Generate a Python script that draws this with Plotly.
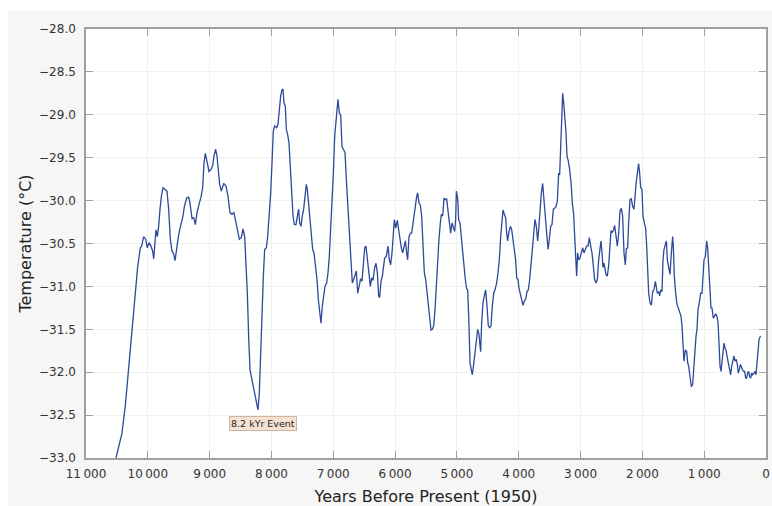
import plotly.graph_objects as go

years = [
    10515, 10461, 10418, 10364, 10310, 10256, 10202, 10164, 10121, 10100,
    10067, 10035, 10008, 9981, 9949, 9922, 9905, 9884, 9868, 9846,
    9825, 9803, 9781, 9754, 9722, 9690, 9663, 9636, 9609, 9582,
    9560, 9539, 9512, 9485, 9453, 9431, 9409, 9372, 9339, 9318,
    9285, 9258, 9231, 9204, 9167, 9140, 9113, 9091, 9070, 9043,
    9010, 8978, 8951, 8929, 8903, 8881, 8859, 8838, 8811,
    8773, 8735, 8703, 8671, 8638, 8606, 8584, 8552, 8520, 8487,
    8460, 8433, 8412, 8390, 8369, 8347, 8326, 8299, 8272, 8245,
    8218, 8196, 8175, 8153, 8131, 8110, 8083, 8061, 8034, 8013,
    7991, 7970, 7948, 7916, 7894, 7873, 7851, 7829, 7813, 7797,
    7776, 7759, 7738, 7716, 7695, 7673, 7651, 7630, 7603, 7581,
    7560, 7544, 7522, 7501, 7479, 7457, 7436, 7420, 7398, 7377,
    7355, 7333, 7312, 7290, 7263, 7242, 7220, 7199, 7177, 7155,
    7134, 7107, 7085, 7064, 7042, 7021, 6999, 6977, 6961, 6940,
    6924, 6902, 6880, 6859, 6837, 6810, 6789, 6767, 6751, 6729,
    6708, 6692, 6670, 6649, 6627, 6605,
    6578, 6557, 6535, 6514, 6492, 6471, 6449, 6427, 6400, 6379,
    6357, 6330, 6309, 6287, 6266, 6250, 6228, 6206, 6185, 6169,
    6142, 6115, 6093, 6072, 6050, 6028, 6012, 5991, 5964, 5942,
    5921, 5899, 5877, 5856, 5834, 5813, 5797, 5775, 5753, 5732,
    5710, 5694, 5673, 5651, 5635, 5613, 5592, 5570, 5549, 5527,
    5505, 5484, 5462, 5441, 5419, 5398, 5376, 5354, 5333, 5311,
    5290, 5268, 5252, 5230, 5209, 5187, 5166, 5144, 5123, 5101,
    5079, 5058, 5036, 5020, 5009, 4988, 4972, 4950, 4928, 4907,
    4885, 4864, 4842, 4826, 4804, 4788, 4767, 4751, 4729, 4707,
    4686, 4664, 4643, 4616, 4600, 4578, 4556, 4535, 4513, 4492,
    4470, 4449, 4427, 4405, 4384,
    4357, 4335, 4314, 4292, 4271, 4254, 4233, 4211, 4195, 4179,
    4157, 4136, 4114, 4093, 4071, 4050, 4033, 4012, 3996, 3974,
    3952, 3931, 3909, 3888, 3866, 3845, 3823, 3801, 3780, 3758,
    3737, 3715, 3694, 3677, 3656, 3634, 3613, 3591, 3570, 3548,
    3526, 3505, 3483, 3462, 3440, 3419, 3397, 3376, 3354, 3338,
    3322, 3305, 3289, 3273, 3252, 3235, 3219, 3198, 3176, 3154,
    3133, 3111, 3090, 3074, 3063, 3047, 3030, 3009, 2987, 2966,
    2944, 2923, 2901, 2879, 2858, 2836, 2815, 2793, 2772, 2750,
    2728, 2707, 2685, 2669, 2653, 2637, 2621, 2604, 2588, 2567,
    2545, 2524, 2507, 2486, 2464, 2448, 2427, 2405, 2383, 2362,
    2340, 2319, 2297, 2276, 2259, 2238, 2222, 2200, 2178, 2157,
    2135, 2119, 2103, 2081, 2060, 2044, 2027, 2006, 1990, 1968,
    1947, 1930, 1914, 1898, 1876, 1855, 1833, 1812, 1790, 1774,
    1758, 1736, 1720, 1704, 1682, 1666, 1650, 1628, 1612, 1596,
    1575, 1553, 1531, 1510, 1499, 1483, 1461, 1440, 1418, 1397,
    1375, 1359, 1343, 1327, 1305, 1283, 1267, 1251, 1229, 1208,
    1186, 1170, 1154, 1132, 1116, 1100, 1078, 1057, 1035, 1019,
    1003, 981, 960, 944, 922, 906, 890, 874, 852, 836,
    814, 793, 777, 760, 744, 728, 712, 696, 679, 663,
    647, 631, 609, 588, 572, 555, 534, 518, 502, 480,
    464, 448, 431, 415, 399, 383, 361, 345, 329, 313,
    297, 280, 264, 248, 232, 216, 194, 178, 162, 146,
    129, 113, 97, 86,
]

temps = [
    -33.00, -32.85, -32.71, -32.39, -31.97, -31.46, -31.04, -30.77, -30.55, -30.53,
    -30.42, -30.45, -30.55, -30.49, -30.53, -30.59, -30.68, -30.47, -30.34, -30.42,
    -30.30, -30.10, -29.95, -29.85, -29.87, -29.89, -30.10, -30.45, -30.59, -30.62,
    -30.70, -30.57, -30.45, -30.34, -30.24, -30.18, -30.07, -29.97, -29.96, -30.03,
    -30.21, -30.20, -30.28, -30.14, -30.03, -29.96, -29.85, -29.56, -29.45, -29.56,
    -29.66, -29.64, -29.59, -29.48, -29.40, -29.48, -29.64, -29.81, -29.89,
    -29.80, -29.83, -29.95, -30.14, -30.16, -30.14, -30.22, -30.36, -30.45, -30.43,
    -30.33, -30.42, -30.69, -31.08, -31.58, -31.97, -32.05, -32.14, -32.24, -32.34,
    -32.44, -32.24, -31.70, -31.15, -30.88, -30.57, -30.55, -30.42, -30.18, -29.91,
    -29.56, -29.19, -29.13, -29.15, -29.11, -28.90, -28.78, -28.71, -28.70, -28.86,
    -28.90, -29.17, -29.23, -29.33, -29.64, -29.91, -30.18, -30.28, -30.28, -30.18,
    -30.10, -30.26, -30.30, -30.18, -30.10, -29.95, -29.81, -29.87, -30.07, -30.26,
    -30.45, -30.57, -30.61, -30.73, -30.92, -31.15, -31.33, -31.43, -31.23, -31.08,
    -31.00, -30.96, -30.84, -30.65, -30.34, -30.10, -29.68, -29.25, -29.09, -28.92,
    -28.82, -28.98, -29.00, -29.37, -29.41, -29.44, -29.75, -30.03, -30.22, -30.53,
    -30.80, -30.96, -30.92, -30.88, -30.82, -31.08,
    -31.00, -30.91, -30.94, -30.73, -30.55, -30.53, -30.69, -30.88, -31.00, -30.90,
    -30.93, -30.78, -30.73, -30.84, -31.11, -31.13, -30.94, -30.88, -30.76, -30.67,
    -30.65, -30.53, -30.69, -30.75, -30.61, -30.38, -30.22, -30.32, -30.23, -30.34,
    -30.45, -30.55, -30.61, -30.53, -30.47, -30.61, -30.69, -30.42, -30.38, -30.38,
    -30.24, -30.20, -30.07, -29.95, -29.91, -30.03, -30.05, -30.18, -30.49, -30.84,
    -30.92, -31.08, -31.19, -31.43, -31.51, -31.50, -31.46, -31.27, -30.96, -30.63,
    -30.45, -30.26, -30.16, -30.18, -29.97, -29.99, -29.98, -30.12, -30.26, -30.38,
    -30.26, -30.30, -30.36, -30.22, -29.89, -29.97, -30.22, -30.26, -30.45, -30.61,
    -30.78, -30.92, -31.03, -31.04, -31.46, -31.89, -31.97, -32.03, -31.91, -31.78,
    -31.62, -31.50, -31.56, -31.76, -31.43, -31.19, -31.11, -31.04, -31.23, -31.46,
    -31.48, -31.46, -31.23, -31.08, -31.04,
    -30.96, -30.84, -30.69, -30.42, -30.22, -30.11, -30.16, -30.20, -30.38, -30.47,
    -30.36, -30.30, -30.34, -30.45, -30.61, -30.69, -30.90, -30.92, -31.02, -31.08,
    -31.13, -31.22, -31.17, -31.15, -31.06, -31.04, -30.92, -30.76, -30.53, -30.38,
    -30.22, -30.30, -30.47, -30.34, -30.07, -29.91, -29.80, -29.99, -30.18, -30.42,
    -30.57, -30.45, -30.30, -30.28, -30.10, -30.09, -30.07, -30.01, -29.68, -29.70,
    -29.44, -29.06, -28.75, -28.86, -29.02, -29.21, -29.48, -29.54, -29.64, -29.79,
    -30.03, -30.16, -30.49, -30.73, -30.88, -30.61, -30.69, -30.67, -30.59, -30.55,
    -30.61, -30.57, -30.53, -30.53, -30.43, -30.53, -30.61, -30.76, -30.92, -30.96,
    -30.92, -30.69, -30.53, -30.47, -30.61, -30.78, -30.73, -30.80, -30.86, -30.88,
    -30.76, -30.53, -30.35, -30.37, -30.34, -30.29, -30.42, -30.53, -30.38, -30.12,
    -30.09, -30.18, -30.61, -30.75, -30.56, -30.55, -30.26, -29.99, -29.98, -30.07,
    -30.10, -29.87, -29.81, -29.68, -29.57, -29.68, -29.85, -29.87, -30.18, -30.26,
    -30.32, -30.53, -30.80, -31.08, -31.19, -31.22, -31.06, -31.04, -30.94, -31.00,
    -31.08, -31.06, -31.11, -31.04, -31.06, -30.69, -30.57, -30.51, -30.47, -30.69,
    -30.80, -30.86, -30.61, -30.42, -30.53, -30.88, -31.08, -31.21, -31.25, -31.29,
    -31.35, -31.46, -31.66, -31.87, -31.74, -31.76, -31.89, -31.93, -32.05, -32.17,
    -32.14, -31.97, -31.70, -31.58, -31.50, -31.27, -31.19, -31.08, -31.08, -30.88,
    -30.69, -30.65, -30.47, -30.55, -30.88, -31.19, -31.25, -31.25, -31.37, -31.35,
    -31.32, -31.35, -31.41, -31.66, -31.93, -31.99, -31.85, -31.76, -31.66, -31.72,
    -31.74, -31.81, -31.91, -31.99, -32.03, -31.93, -31.83, -31.81, -31.87, -31.85,
    -31.91, -32.01, -31.97, -31.91, -31.93, -31.97, -31.99, -31.99, -32.07, -32.07,
    -32.01, -31.99, -32.05, -32.07, -32.01, -32.03, -32.01, -31.99, -32.03, -31.89,
    -31.74, -31.62, -31.59, -31.58,
]

x_range = [11000, 0]
y_range = [-33.0, -28.0]
x_title = "Years Before Present (1950)"
y_title = "Temperature (°C)"
event_label = "8.2 kYr Event"
event_year = 8140
event_temp = -32.6

FONT = "DejaVu Sans, Verdana, sans-serif"
AXIS_COLOR = "#a0a0a0"
GRID_COLOR = "#f0f0f0"

fig = go.Figure()
fig.add_trace(go.Scatter(
    x=years, y=temps, mode="lines",
    line=dict(color="#2c4a9a", width=1.3),
    hoverinfo="x+y", showlegend=False,
))

fig.add_annotation(
    x=event_year, y=event_temp, text=event_label, showarrow=False,
    font=dict(family=FONT, size=9.5, color="#222222"),
    bgcolor="#f5e2d3", bordercolor="#cdb4a0", borderwidth=1, borderpad=1,
)

axis_common = dict(
    showline=True, linecolor=AXIS_COLOR, linewidth=1.5, mirror="ticks",
    ticks="inside", ticklen=7, tickcolor=AXIS_COLOR, tickwidth=1,
    showgrid=True, gridcolor=GRID_COLOR, gridwidth=1, zeroline=False,
    tickfont=dict(family=FONT, size=12, color="#333333"),
    automargin=False,
)

fig.update_xaxes(
    range=x_range, dtick=1000, tick0=0, tickformat=",d",
    title=dict(text=x_title, font=dict(family=FONT, size=16, color="#222222"), standoff=11),
    ticklabelstandoff=4,
    **axis_common,
)
fig.update_yaxes(
    range=y_range, dtick=0.5, tick0=-33, tickformat=".1f",
    title=dict(text=y_title, font=dict(family=FONT, size=16, color="#222222"), standoff=3),
    ticklabelstandoff=6,
    **axis_common,
)

fig.update_layout(
    width=764, height=496,
    margin=dict(l=78, r=6, t=19, b=48),
    paper_bgcolor="#f6f6f6", plot_bgcolor="#ffffff",
    separators=".\u2009",
    font=dict(family=FONT, color="#333333"),
)

# place the figure so the page does not overflow the 772x506 window
fig.write_html(
    "out.html",
    post_script="document.body.style.margin='10px 0 0 8px';document.body.style.overflow='hidden';",
)
